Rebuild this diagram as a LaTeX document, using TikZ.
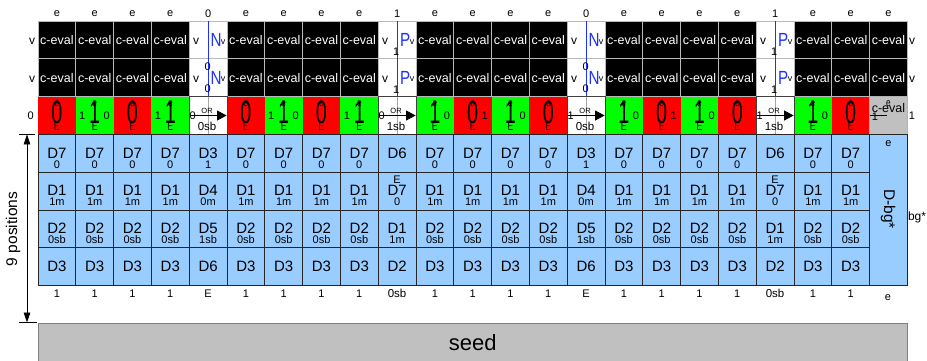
\documentclass[tikz,border=0pt]{standalone}
\usepackage{fontspec}
\usepackage{graphicx}
\setmainfont{Liberation Sans}
\usetikzlibrary{arrows.meta}
\definecolor{cellblue}{HTML}{99CCFF}
\definecolor{tred}{HTML}{FF0000}
\definecolor{tgreen}{HTML}{00FF00}
\definecolor{tgray}{HTML}{C0C0C0}
\definecolor{wireblue}{HTML}{1E32FF}
\newcommand{\fs}[1]{\fontsize{#1}{#1}\selectfont}
\newcommand{\narrow}[1]{\scalebox{0.62}[1]{#1}}
\begin{document}
\begin{tikzpicture}[x=1pt,y=-1pt,
  every node/.style={inner sep=0pt, outer sep=0pt},
  cellsz/.style={minimum width=37.8pt, minimum height=37.75pt},
  blk/.style={cellsz, fill=black, draw=gray!55, line width=1pt, text=white, font=\fs{12.5}},
  wire/.style={cellsz, fill=white, draw=gray!55, line width=1pt},
  rtile/.style={cellsz, fill=tred},
  gtile/.style={cellsz, fill=tgreen},
  ortile/.style={cellsz, fill=white, draw=black!75, line width=0.8pt},
  graytile/.style={cellsz, fill=tgray, draw=gray!60, line width=0.8pt},
  btile/.style={cellsz, fill=cellblue, draw=black!85, line width=0.9pt},
  lab/.style={font=\fs{11}},
  big/.style={font=\fs{32}},
  dmain/.style={font=\fs{15}},
  dsub/.style={font=\fs{11}},
  glyph/.style={text=wireblue, font=\fs{19}}
]
\useasboundingbox (0,0) rectangle (927,360);

% ---------- top labels ----------
\foreach \i/\s in {1/e,2/e,3/e,4/e,5/0,6/e,7/e,8/e,9/e,10/1,11/e,12/e,13/e,14/e,15/0,16/e,17/e,18/e,19/e,20/1,21/e,22/e,23/e}
  \node[lab] (top\i) at ({38+(\i-0.5)*37.8},14) {\s};

% ---------- rows 1-2: c-eval ----------
\foreach \i in {1,2,3,4,6,7,8,9,11,12,13,14,16,17,18,19,21,22,23} {
  \node[blk] (ka\i) at ({38+(\i-0.5)*37.8},40.075) {c-eval};
  \node[blk] (kb\i) at ({38+(\i-0.5)*37.8},77.825) {c-eval};
}

% ---------- rows 1-2: N / P wire cells ----------
\foreach \i/\g in {5/N,10/P,15/N,20/P} {
  \pgfmathsetmacro\cx{38+(\i-0.5)*37.8}
  \pgfmathsetmacro\lx{38+(\i-1)*37.8}
  \node[wire] (wa\i) at (\cx,40.075) {};
  \node[wire] (wb\i) at (\cx,77.825) {};
  \draw[wireblue, line width=1.2pt] (wa\i.north) -- (wb\i.south);
  \node[font=\fs{12}] (va\i) at ({\lx+7},41.3) {v};
  \node[font=\fs{12}] (vb\i) at ({\lx+7},79) {v};
  \node[glyph] (ga\i) at ({\lx+27},40) {\scalebox{0.8}[1]{\g}};
  \node[glyph] (gb\i) at ({\lx+27},77.8) {\scalebox{0.8}[1]{\g}};
  \node[font=\fs{9}] (ra\i) at ({\lx+34},41.8) {v};
  \node[font=\fs{9}] (rb\i) at ({\lx+34},79.5) {v};
}
\foreach \i in {5,15} {
  \pgfmathsetmacro\cx{38+(\i-0.5)*37.8}
  \node[lab] (za\i) at ({\cx-0.5},66.5) {0};
  \node[lab] (zb\i) at ({\cx-0.5},88.5) {0};
}
\foreach \i in {10,20} {
  \pgfmathsetmacro\cx{38+(\i-0.5)*37.8}
  \node[lab] (oa\i) at ({\cx-1},51.5) {1};
  \node[lab] (ob\i) at ({\cx-1},89.3) {1};
}

% ---------- row 3: tiles ----------
\foreach \i in {1,3,6,8,12,14,17,19,22} {
  \pgfmathsetmacro\cx{38+(\i-0.5)*37.8}
  \node[rtile] (t\i) at (\cx,115.575) {};
  \node[big] (d\i) at (\cx,112) {\narrow{0}};
}
\foreach \i in {2,4,7,9,11,13,16,18,21} {
  \pgfmathsetmacro\cx{38+(\i-0.5)*37.8}
  \node[gtile] (t\i) at (\cx,115.575) {};
  \node[big] (d\i) at (\cx,112) {\narrow{1}};
}
\foreach \i in {1,2,3,4,6,7,8,9,11,12,13,14,16,17,18,19,21,22} {
  \pgfmathsetmacro\cx{38+(\i-0.5)*37.8}
  \node[font=\fs{11}] (te\i) at (\cx,104) {\scalebox{0.75}[1]{e}};
  \node[font=\fs{12.5}] (tE\i) at (\cx,126.5) {\scalebox{0.7}[1]{E}};
}
\foreach \i/\s in {2/1,4/1,7/1,9/1}
  \node[lab] (sl\i) at ({38+(\i-1)*37.8+6.5},116) {\s};
\foreach \i/\s in {2/0,7/0,11/0,12/1,13/0,16/0,17/1,18/0,21/0}
  \node[lab] (sr\i) at ({38+(\i-1)*37.8+31},116) {\s};

% OR cells
\foreach \i/\a/\b in {5/0/0sb,10/0/1sb,15/1/0sb,20/1/1sb} {
  \pgfmathsetmacro\cx{38+(\i-0.5)*37.8}
  \pgfmathsetmacro\lx{38+(\i-1)*37.8}
  \node[ortile] (o\i) at (\cx,115.575) {};
  \draw[gray!70, line width=0.6pt] (o\i.north) -- (o\i.south);
  \coordinate (os\i) at ({\lx+0.5},115.5);
  \coordinate (oe\i) at ({\lx+37.4},115.5);
  \draw[line width=0.8pt, -{Triangle[length=9.5pt,width=10pt]}] (os\i) -- (oe\i);
  \node[font=\fs{7.5}] (or\i) at ({\cx-1},110.5) {OR};
  \node[lab] (oa\i) at ({\lx+3.5},115.5) {\a};
  \node[font=\fs{11.5}] (ob\i) at ({\cx-1},126.5) {\b};
}

% gray cell col 23
\node[graytile] (t23) at ({38+22.5*37.8},115.575) {};
\node[font=\fs{12.5}] (g23) at ({38+22.5*37.8},108) {c-eval};
\node[font=\fs{11}] (ge23) at ({38+22.5*37.8},103.5) {\scalebox{0.75}[1]{e}};
\coordinate (gl23) at ({38+22*37.8},115.5);
\coordinate (gr23) at (887,115.5);
\draw[line width=0.7pt] (gl23) -- (gr23);
\node[lab] (g1) at (875,117) {1};

% outer side labels
\node[font=\fs{12}] (lv1) at (32,41.3) {v};
\node[font=\fs{12}] (lv2) at (32,79) {v};
\node[lab] (l0) at (30.8,115.8) {0};
\node[font=\fs{12}] (rv1) at (912,41.3) {v};
\node[font=\fs{12}] (rv2) at (912,79) {v};
\node[lab] (r1) at (912,115.5) {1};

% ---------- blue region ----------
\foreach \i in {1,2,3,4,6,7,8,9,11,12,13,14,16,17,18,19,21,22} {
  \pgfmathsetmacro\cx{38+(\i-0.5)*37.8}
  \node[btile] (b\i a) at (\cx,153.325) {};
  \node[btile] (b\i b) at (\cx,191.075) {};
  \node[btile] (b\i c) at (\cx,228.825) {};
  \node[btile] (b\i d) at (\cx,266.575) {};
}
% regular columns
\foreach \i in {1,2,3,4,6,7,8,9,11,12,13,14,16,17,18,19,21,22} {
  \pgfmathsetmacro\cx{38+(\i-0.5)*37.8}
  \node[dmain] (m\i a) at (\cx,153.1) {D7};
  \node[dsub] (s\i a) at (\cx,164.4) {0};
  \node[dmain] (m\i b) at (\cx,190.8) {D1};
  \node[dsub] (s\i b) at (\cx,201.9) {1m};
  \node[dmain] (m\i c) at (\cx,228.5) {D2};
  \node[dsub] (s\i c) at (\cx,239.6) {0sb};
  \node[dmain] (m\i d) at (\cx,266.6) {D3};
  \node[lab] (bot\i) at (\cx,293.3) {1};
}
% N columns
\foreach \i in {5,15} {
  \pgfmathsetmacro\cx{38+(\i-0.5)*37.8}
  \node[btile] (b\i a) at (\cx,153.325) {};
  \node[btile] (b\i b) at (\cx,191.075) {};
  \node[btile] (b\i c) at (\cx,228.825) {};
  \node[btile] (b\i d) at (\cx,266.575) {};
  \node[dmain] (m\i a) at (\cx,153.1) {D3};
  \node[dsub] (s\i a) at (\cx,164.4) {1};
  \node[dmain] (m\i b) at (\cx,190.8) {D4};
  \node[dsub] (s\i b) at (\cx,201.9) {0m};
  \node[dmain] (m\i c) at (\cx,228.5) {D5};
  \node[dsub] (s\i c) at (\cx,239.6) {1sb};
  \node[dmain] (m\i d) at (\cx,266.6) {D6};
  \node[lab] (bot\i) at (\cx,293.3) {E};
}
% P columns
\foreach \i in {10,20} {
  \pgfmathsetmacro\cx{38+(\i-0.5)*37.8}
  \node[btile] (b\i a) at (\cx,153.325) {};
  \node[btile] (b\i b) at (\cx,191.075) {};
  \node[btile] (b\i c) at (\cx,228.825) {};
  \node[btile] (b\i d) at (\cx,266.575) {};
  \node[dmain] (m\i a) at (\cx,153.6) {D6};
  \node[dsub] (e\i b) at (\cx,179.3) {E};
  \node[dmain] (m\i b) at (\cx,190.8) {D7};
  \node[dsub] (s\i b) at (\cx,201.9) {0};
  \node[dmain] (m\i c) at (\cx,228.5) {D1};
  \node[dsub] (s\i c) at (\cx,239.6) {1m};
  \node[dmain] (m\i d) at (\cx,266.6) {D2};
  \node[font=\fs{11.5}] (bot\i) at (\cx,293.3) {0sb};
}
% background column
\node[btile, minimum height=151pt] (bg) at ({38+22.5*37.8},209.95) {};
\node[lab] (bge) at ({38+22.5*37.8},143.5) {e};
\node[font=\fs{15.5}, rotate=-90] (bgt) at (888,209) {D-bg*};
\node[lab] (bot23) at (888,297.5) {e};
\node[font=\fs{12}] (bgs) at (917,217) {bg*};

% ---------- left dimension ----------
\coordinate (atop) at (27,134.45);
\coordinate (abot) at (27,322.5);
\draw[line width=0.8pt, {Triangle[length=10pt,width=6.5pt]}-{Triangle[length=10pt,width=6.5pt]}] (atop) -- (abot);
\coordinate (tk1a) at (19,134.45);
\coordinate (tk1b) at (35,134.45);
\coordinate (tk2a) at (19,322.5);
\coordinate (tk2b) at (37,322.5);
\draw[line width=0.8pt] (tk1a) -- (tk1b);
\draw[line width=0.8pt] (tk2a) -- (tk2b);
\node[font=\fs{15.5}, rotate=90] (npos) at (13,229) {9 positions};

% ---------- seed ----------
\node[minimum width=869pt, minimum height=40pt, fill=tgray, draw=gray, line width=1pt, font=\fs{22}] (seed) at (472.7,343) {seed};
\end{tikzpicture}
\end{document}
